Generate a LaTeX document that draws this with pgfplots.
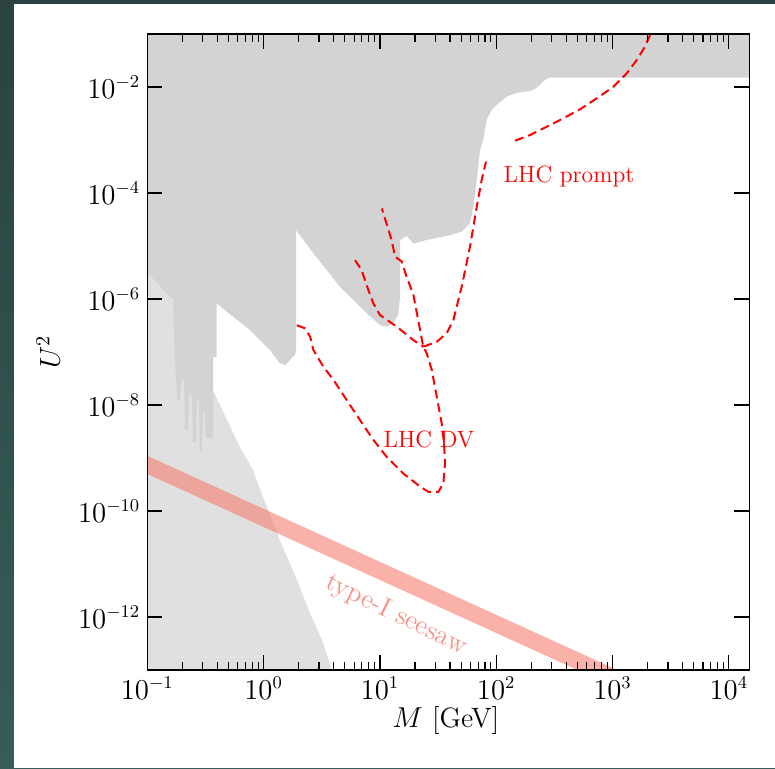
\documentclass[border=0pt]{standalone}
\usepackage{pgfplots}
\pgfplotsset{compat=1.18}
\definecolor{hnlgray}{RGB}{211,211,211}
\definecolor{hnllight}{RGB}{224,224,224}
\definecolor{seesaw}{RGB}{245,125,112}
\definecolor{bgtop}{RGB}{41,67,64}
\definecolor{bgbot}{RGB}{54,93,88}
\tikzset{
  dv/.style={red, line width=1pt, dash pattern=on 4.5pt off 2.5pt},
}
\begin{document}
\begin{tikzpicture}
\useasboundingbox (0,0) rectangle (387.5pt,384pt);
\shade[top color=bgtop, bottom color=bgbot] (0,0) rectangle (387.5pt,384pt);
\fill[white] (7pt,0) rectangle (387.5pt,382pt);
\begin{axis}[
  at={(73.65pt,49pt)}, anchor=south west,
  scale only axis, width=301pt, height=318pt,
  xmode=log, ymode=log,
  xmin=0.1, xmax=1.5e4, ymin=1e-13, ymax=1e-1,
  xtick={1e-1,1,10,100,1000,10000},
  ytick={1e-12,1e-10,1e-8,1e-6,1e-4,1e-2},
  minor xtick={0.2,0.3,0.4,0.5,0.6,0.7,0.8,0.9,2,3,4,5,6,7,8,9,
    20,30,40,50,60,70,80,90,200,300,400,500,600,700,800,900,
    2000,3000,4000,5000,6000,7000,8000,9000},
  yminorticks=false,
  tick align=inside,
  major tick length=7.5pt, minor tick length=3.8pt,
  tick style={black, line width=0.6pt},
  axis line style={line width=0.6pt},
  axis on top,
  tick label style={font=\fontsize{13.5}{15}\selectfont},
  label style={font=\fontsize{14}{16}\selectfont},
  xlabel={$M$~[GeV]}, ylabel={$U^2$},
  xlabel style={at={(axis description cs:0.496,-0.0786)}, anchor=center},
  ylabel style={at={(axis description cs:-0.1645,0.5)}, anchor=center},
]
% lower (cosmology) bound
\addplot[fill=hnllight, draw=none] coordinates {
  (0.05,1.0e-5) (0.1286,1.0e-5) (0.163,9.6e-7) (0.367,1.9e-8) (0.627,1.6e-9)
  (0.81,5.9e-10) (0.99,1.84e-10) (1.38,2.8e-11) (1.94,5.0e-12) (2.5,1.19e-12)
  (3.18,3.7e-13) (3.87,1e-13) (4.0,5e-14) (0.05,5e-14)
} -- cycle;
% excluded region
\addplot[fill=hnlgray, draw=none] coordinates {
  (0.05,1) (3e4,1) (3e4,0.015) (281,0.015) (250,0.0125) (238,0.0109) (215,0.0092)
  (195,0.0084) (170,0.0081) (150,0.0078) (123,0.0066) (104,0.0049) (91.5,0.0037)
  (82.8,0.0024) (77.4,0.001) (72.6,6.5e-4) (68,1.76e-4) (63.6,5.5e-5) (59.5,2.7e-5)
  (50.5,1.86e-5) (37.5,1.55e-5) (25.3,1.3e-5) (19.4,1.12e-5) (17,1.55e-5)
  (14.9,1.3e-5) (14.9,1.1e-6) (14.4,5.0e-7) (13.0,3.5e-7) (11.4,3.0e-7)
  (10.0,3.2e-7) (7.7,5.4e-7) (5.9,9.6e-7) (4.54,1.7e-6) (3.49,3.5e-6)
  (2.68,7.3e-6) (1.9,2.0e-5) (1.9,1.1e-7) (1.86,8.8e-8) (1.69,7.1e-8)
  (1.53,5.7e-8) (1.38,6.1e-8) (1.135,1.09e-7) (0.93,1.68e-7) (0.764,2.6e-7)
  (0.549,4.6e-7) (0.395,8.3e-7) (0.395,8.0e-8) (0.369,8.0e-8) (0.367,2.6e-9)
  (0.353,2.3e-9) (0.320,2.4e-9) (0.313,7.4e-9) (0.301,7.4e-9) (0.295,1.3e-9)
  (0.284,1.3e-9) (0.278,1.24e-8) (0.2675,1.24e-8) (0.262,2.0e-9) (0.247,2.0e-9)
  (0.242,1.55e-8) (0.228,1.55e-8) (0.224,3.4e-9) (0.211,3.4e-9) (0.207,3.0e-8)
  (0.195,3.0e-8) (0.191,1.24e-8) (0.180,1.24e-8) (0.173,7.1e-8) (0.166,9.6e-7)
  (0.157,1.1e-6) (0.1,3.2e-6) (0.05,3.2e-6)
} -- cycle;
% seesaw band
\addplot[fill=seesaw, fill opacity=0.6, draw=none] coordinates {
  (0.05,2.2e-9) (2e4,5.5e-15) (2e4,2.5e-15) (0.05,1e-9)
} -- cycle;
% LHC DV
\addplot[dv] coordinates {
  (1.93,3.2e-7) (2.27,2.8e-7) (2.51,1.95e-7) (2.68,1.09e-7) (3.26,5.3e-8)
  (3.98,3.0e-8) (5.18,1.24e-8) (6.74,5.2e-9) (8.78,2.2e-9) (11.4,1.06e-9)
  (15.9,5.1e-10) (22.1,2.9e-10) (26.1,2.3e-10) (31.8,2.3e-10) (35.1,3.3e-10)
  (36.3,7.9e-10) (35.6,1.9e-9) (34.0,4.5e-9) (30.8,1.44e-8) (27.9,4.6e-8)
  (25.3,9.4e-8) (23.6,1.26e-7) (19.4,1.2e-6) (16.8,2.8e-6) (15.4,5.1e-6)
  (13.5,6.3e-6) (12.6,1.3e-5) (10.4,5.1e-5)
};
\addplot[dv] coordinates {
  (6.11,5.4e-6) (6.97,3.5e-6) (7.95,1.48e-6) (8.78,8.3e-7) (10.0,5.0e-7)
  (13.95,3.0e-7) (19.4,1.68e-7) (23.6,1.26e-7)
};
% LHC prompt
\addplot[dv] coordinates {
  (23.6,1.26e-7) (30.8,1.56e-7) (37.5,2.25e-7) (42.8,4.0e-7) (50.5,1.7e-6)
  (59.5,9.7e-6) (68,5.5e-5) (75,1.76e-4) (81.7,3.9e-4)
};
\addplot[dv] coordinates {
  (145,9.7e-4) (195,1.24e-3) (272,1.78e-3) (378,2.57e-3) (526,3.8e-3)
  (731,6.1e-3) (1016,0.0101) (1325,0.0181) (1615,0.0323) (1904,0.058)
  (2100,0.095) (2250,0.13)
};
\node[red, font=\fontsize{11.8}{13}\selectfont] at (axis cs:423,2.09e-4) {LHC prompt};
\node[red, font=\fontsize{11.8}{13}\selectfont] at (axis cs:26.4,2.28e-9) {LHC DV};
\node[text=seesaw!85, rotate=-26, font=\fontsize{13.5}{15}\selectfont]
  at (axis cs:13.75,1.09e-12) {type-I seesaw};
\end{axis}
\end{tikzpicture}
\end{document}
